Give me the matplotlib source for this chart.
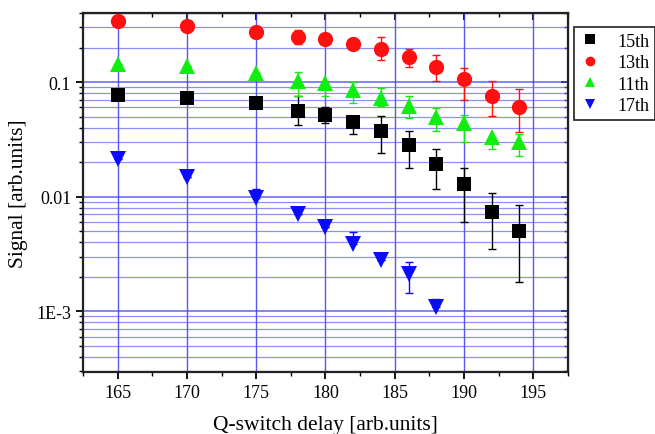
import matplotlib
matplotlib.use("Agg")
import matplotlib.pyplot as plt
from matplotlib.ticker import LogLocator, FixedLocator, NullFormatter, FixedFormatter, MultipleLocator
import numpy as np

plt.rcParams['font.family'] = ['Liberation Serif', 'DejaVu Serif']

x15 = [165, 170, 175, 178, 180, 182, 184, 186, 188, 190, 192, 194]
y15 = [0.077, 0.073, 0.066, 0.0555, 0.052, 0.045, 0.0374, 0.0283, 0.0193, 0.0130, 0.0073, 0.0050]
lo15 = [0.077, 0.073, 0.066, 0.042, 0.044, 0.035, 0.024, 0.0177, 0.0116, 0.0060, 0.0035, 0.0018]
hi15 = [0.077, 0.073, 0.066, 0.075, 0.060, 0.0505, 0.0505, 0.0374, 0.0262, 0.0179, 0.0107, 0.0085]

x13 = [165, 170, 175, 178, 180, 182, 184, 186, 188, 190, 192, 194]
y13 = [0.34, 0.307, 0.275, 0.247, 0.235, 0.216, 0.193, 0.166, 0.135, 0.107, 0.0755, 0.0605]
lo13 = [0.34, 0.307, 0.275, 0.215, 0.235, 0.216, 0.155, 0.135, 0.103, 0.0697, 0.0505, 0.037]
hi13 = [0.34, 0.307, 0.275, 0.285, 0.235, 0.216, 0.245, 0.193, 0.173, 0.133, 0.102, 0.0877]

x11 = [165, 170, 175, 178, 180, 182, 184, 186, 188, 190, 192, 194]
y11 = [0.1426, 0.138, 0.119, 0.102, 0.0975, 0.0852, 0.073, 0.0618, 0.0499, 0.0443, 0.0331, 0.0297]
lo11 = [0.1426, 0.138, 0.119, 0.075, 0.075, 0.065, 0.062, 0.049, 0.0374, 0.030, 0.0262, 0.0227]
hi11 = [0.1426, 0.138, 0.119, 0.122, 0.0975, 0.100, 0.089, 0.075, 0.059, 0.052, 0.0331, 0.035]

x17 = [165, 170, 175, 178, 180, 182, 184, 186, 188]
y17 = [0.0215, 0.0147, 0.0098, 0.0071, 0.00545, 0.00385, 0.0028, 0.0021, 0.0011]
lo17 = [0.0215, 0.0147, 0.0098, 0.0071, 0.00545, 0.00385, 0.0028, 0.00145, 0.0011]
hi17 = [0.0215, 0.0147, 0.0117, 0.0071, 0.00545, 0.0049, 0.0028, 0.0027, 0.00129]

series = [
    ("15th", x15, y15, lo15, hi15, "black", "s", 9.5),
    ("13th", x13, y13, lo13, hi13, "#ff1010", "o", 11),
    ("11th", x11, y11, lo11, hi11, "#10ee10", "^", 11.5),
    ("17th", x17, y17, lo17, hi17, "#0a0aff", "v", 11.5),
]

fig = plt.figure(figsize=(6.55, 4.35), dpi=100)
ax = fig.add_axes([0.1267, 0.1425, 0.7403, 0.8253])

ax.set_yscale('log')
ax.set_xlim(162.5, 197.5)
ax.set_ylim(2.95e-4, 0.4)

ax.xaxis.set_major_locator(MultipleLocator(5))
ax.xaxis.set_minor_locator(MultipleLocator(2.5))
ax.yaxis.set_major_locator(FixedLocator([1e-3, 1e-2, 1e-1]))
ax.yaxis.set_major_formatter(FixedFormatter(["1E-3", "0.01", "0.1"]))
ax.yaxis.set_minor_locator(LogLocator(base=10, subs=np.arange(2, 10), numticks=20))
ax.yaxis.set_minor_formatter(NullFormatter())

ax.grid(True, which='major', axis='x', color='#3a3af0', linewidth=1.0, alpha=0.85)
ax.grid(True, which='major', axis='y', color='#4a4af5', linewidth=1.2, alpha=0.8)
ax.grid(True, which='minor', axis='y', color='#6060f5', linewidth=0.9, alpha=0.7)
ax.set_axisbelow(True)

handles = []
for name, xs, ys, lo, hi, col, mk, ms in series:
    ys_a = np.array(ys)
    err = [ys_a - np.array(lo), np.array(hi) - ys_a]
    ax.errorbar(xs, ys, yerr=err, fmt='none', ecolor=col, elinewidth=1.0, capsize=3, capthick=1.0, zorder=3)
    ax.plot(xs, ys, linestyle='none', marker=mk, color=col, markersize=ms, markeredgewidth=0, zorder=4)
    h, = ax.plot([], [], linestyle='none', marker=mk, color=col, markersize=7, markeredgewidth=0, label=name)
    handles.append(h)

for sp in ax.spines.values():
    sp.set_linewidth(1.6)
    sp.set_color('#222222')

ax.tick_params(axis='both', which='both', direction='out', top=False, right=False)
ax.tick_params(which='major', length=5, width=1.3, labelsize=13)
ax.tick_params(which='minor', length=3, width=1.0)

axt = ax.secondary_xaxis('top')
axt.xaxis.set_major_locator(MultipleLocator(5))
axt.xaxis.set_minor_locator(MultipleLocator(2.5))
axt.tick_params(which='both', direction='in', labeltop=False)
axt.tick_params(which='major', length=5, width=1.3)
axt.tick_params(which='minor', length=3, width=1.0)
axr = ax.secondary_yaxis('right')
axr.yaxis.set_major_locator(FixedLocator([1e-3, 1e-2, 1e-1]))
axr.yaxis.set_minor_locator(LogLocator(base=10, subs=np.arange(2, 10), numticks=20))
axr.tick_params(which='both', direction='in', labelright=False)
axr.tick_params(which='major', length=5, width=1.3)
axr.tick_params(which='minor', length=3, width=1.0)
axr.yaxis.set_minor_formatter(NullFormatter())
axr.yaxis.set_major_formatter(NullFormatter())

ax.set_xlabel("Q-switch delay [arb.units]", fontsize=15.5, labelpad=10)
ax.set_ylabel("Signal [arb.units]", fontsize=15.5, labelpad=6)

leg = fig.legend(handles=handles, loc='upper left', bbox_to_anchor=(0.876, 0.935),
                 fontsize=13, frameon=True, fancybox=False, edgecolor='black',
                 handlelength=1.2, handletextpad=0.9, borderpad=0.3, labelspacing=0.25,
                 borderaxespad=0)
leg.get_frame().set_linewidth(1.3)

fig.savefig("out.png", dpi=100)
